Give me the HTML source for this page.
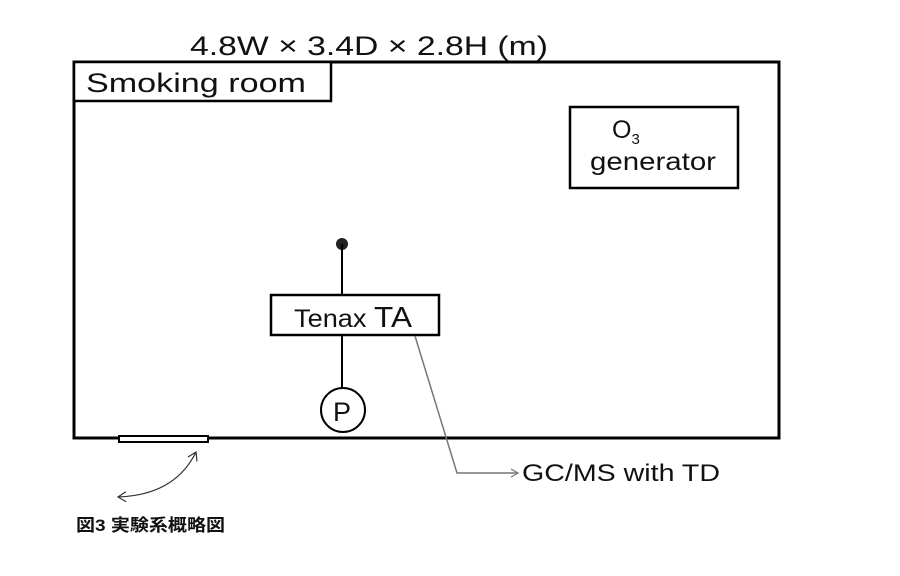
<!DOCTYPE html>
<html><head><style>
body{margin:0;background:#fff;width:900px;height:576px;overflow:hidden}
svg{display:block}
text{font-family:"Liberation Sans","DejaVu Sans",sans-serif;fill:#111}
</style></head><body>
<svg width="900" height="576" viewBox="0 0 900 576">
<defs>
<marker id="a" markerWidth="10" markerHeight="10" refX="8" refY="5" orient="auto" markerUnits="userSpaceOnUse"><path d="M1,1 L8,5 L1,9" fill="none" stroke="#777" stroke-width="1.2"/></marker>
<marker id="b" markerWidth="12" markerHeight="12" refX="9" refY="6" orient="auto-start-reverse" markerUnits="userSpaceOnUse"><path d="M1,1 L9,6 L1,11" fill="none" stroke="#333" stroke-width="1.2"/></marker>
</defs>
<text x="190" y="55" font-size="27" textLength="358" lengthAdjust="spacingAndGlyphs">4.8W × 3.4D × 2.8H (m)</text>
<rect x="74" y="62" width="705" height="376" fill="none" stroke="#000" stroke-width="3"/>
<rect x="74" y="62" width="257" height="39" fill="#fff" stroke="#000" stroke-width="2.5"/>
<text x="86" y="92" font-size="27" textLength="220" lengthAdjust="spacingAndGlyphs">Smoking room</text>
<rect x="570" y="107" width="168" height="81" fill="none" stroke="#000" stroke-width="2.5"/>
<text x="612" y="138" font-size="25">O<tspan font-size="15" dy="6">3</tspan></text>
<text x="590" y="170" font-size="25" textLength="126" lengthAdjust="spacingAndGlyphs">generator</text>
<circle cx="342" cy="244" r="6" fill="#222"/>
<line x1="342" y1="244" x2="342" y2="294" stroke="#000" stroke-width="2"/>
<line x1="342" y1="335" x2="342" y2="388" stroke="#000" stroke-width="2"/>
<rect x="271" y="295" width="168" height="40" fill="#fff" stroke="#000" stroke-width="2.5"/>
<text x="294" y="327" font-size="25" textLength="118" lengthAdjust="spacingAndGlyphs">Tenax <tspan font-size="29">TA</tspan></text>
<circle cx="343" cy="410" r="22" fill="#fff" stroke="#000" stroke-width="2"/>
<text x="333" y="421" font-size="27">P</text>
<polyline points="415,336 457,473 518,473" fill="none" stroke="#777" stroke-width="1.5" marker-end="url(#a)"/>
<text x="522" y="481" font-size="24" textLength="198" lengthAdjust="spacingAndGlyphs">GC/MS with TD</text>
<rect x="119" y="436" width="89" height="6" fill="#fff" stroke="#000" stroke-width="2"/>
<path d="M196,452 Q175,495 118,497" fill="none" stroke="#333" stroke-width="1.2" marker-start="url(#b)" marker-end="url(#b)"/>
<text x="76" y="531" font-size="17" textLength="149" lengthAdjust="spacingAndGlyphs" style='font-family:"Liberation Sans","Noto Sans CJK JP",sans-serif;font-weight:bold'>図3 実験系概略図</text>
</svg>
</body></html>
